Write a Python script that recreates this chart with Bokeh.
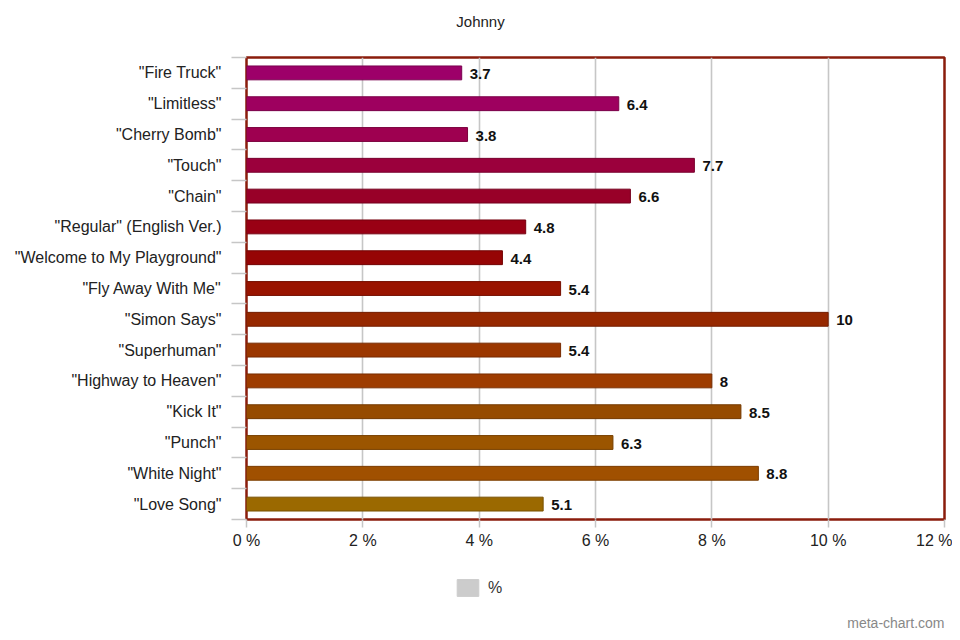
import numpy as np
from bokeh.plotting import figure
from bokeh.layouts import column
from bokeh.models import (FixedTicker, Legend, LegendItem, ColumnDataSource,
                          Range1d, CustomJSTickFormatter, Label)
from bokeh.core.properties import value
from bokeh.embed import file_html
from bokeh.resources import INLINE

songs = ['"Fire Truck"', '"Limitless"', '"Cherry Bomb"', '"Touch"', '"Chain"',
         '"Regular" (English Ver.)', '"Welcome to My Playground"', '"Fly Away With Me"',
         '"Simon Says"', '"Superhuman"', '"Highway to Heaven"', '"Kick It"', '"Punch"',
         '"White Night"', '"Love Song"']
percent = [3.7, 6.4, 3.8, 7.7, 6.6, 4.8, 4.4, 5.4, 10, 5.4, 8, 8.5, 6.3, 8.8, 5.1]
value_labels = ["3.7", "6.4", "3.8", "7.7", "6.6", "4.8", "4.4", "5.4", "10", "5.4",
                "8", "8.5", "6.3", "8.8", "5.1"]
colors = ["#9d0069", "#9e005f", "#9e0050", "#9b003c", "#980028", "#990014", "#960505",
          "#991400", "#962800", "#9b3700", "#9e3c00", "#964b00", "#9b5500", "#a05000",
          "#9b6900"]
outlines = ["#7a0050", "#7a0048", "#7a003c", "#78002e", "#75001e", "#75000f", "#730404",
            "#750f00", "#731e00", "#772a00", "#7a2e00", "#743a00", "#784100", "#7c3d00",
            "#785100"]
x_ticks = [0, 2, 4, 6, 8, 10, 12]
title_text = "Johnny"
legend_text = "%"
legend_color = "#cccccc"
watermark = "meta-chart.com"

n = len(songs)
ypos = [n - 1 - i + 0.5 for i in range(n)]
boundaries = [float(i) for i in range(n + 1)]

W = 952
FONT = "Liberation Sans"


def blank_figure(height):
    f = figure(width=W, height=height, output_backend="svg", toolbar_location=None,
               x_range=Range1d(0, 1), y_range=Range1d(0, 1),
               min_border_left=246, min_border_right=8, min_border_top=0,
               min_border_bottom=0)
    f.axis.visible = False
    f.grid.visible = False
    f.outline_line_color = None
    f.border_fill_color = "white"
    f.background_fill_color = "white"
    return f


# ---- title strip (frame aligned with the chart frame, starting at x=246) ----
head = blank_figure(52)
head.add_layout(Label(x=234, y=31, x_units="screen", y_units="screen", text=title_text,
                      text_font=FONT, text_font_size="15px", text_color="#222222",
                      text_align="center", text_baseline="middle"))

# ---- main chart ----
p = figure(width=W, height=508, output_backend="svg", toolbar_location=None,
           x_range=Range1d(0, 12), y_range=Range1d(0, n),
           min_border_left=246, min_border_right=8, min_border_top=5,
           min_border_bottom=41)
p.background_fill_color = "white"
p.border_fill_color = "white"
p.outline_line_color = "#8a1d0c"
p.outline_line_width = 2.5

src = ColumnDataSource(dict(y=ypos, right=percent, color=colors, line=outlines,
                            lab=value_labels))
p.hbar(y="y", right="right", left=0, height=0.45, fill_color="color",
       line_color="line", line_width=1, source=src)

p.text(x="right", y="y", text="lab", source=src, x_offset=8, y_offset=1,
       text_font=value(FONT), text_font_style="bold", text_font_size="15px",
       text_color="#111111", text_baseline="middle", text_align="left")

p.ygrid.visible = False
p.xgrid.ticker = FixedTicker(ticks=x_ticks)
p.xgrid.grid_line_color = "#c6c6c6"
p.xgrid.grid_line_width = 1.6

xa = p.xaxis[0]
xa.ticker = FixedTicker(ticks=x_ticks)
xa.formatter = CustomJSTickFormatter(code="return tick + ' %';")
xa.axis_line_color = None
xa.major_tick_line_color = "#c6c6c6"
xa.major_tick_line_width = 1.5
xa.major_tick_out = 8
xa.major_tick_in = 0
xa.minor_tick_line_color = None
xa.major_label_text_font = FONT
xa.major_label_text_font_size = "16px"
xa.major_label_text_color = "#222222"
xa.major_label_standoff = 4

ya = p.yaxis[0]
ya.ticker = FixedTicker(ticks=ypos, minor_ticks=boundaries)
ya.major_label_overrides = {yv: s for yv, s in zip(ypos, songs)}
ya.axis_line_color = None
ya.major_tick_line_color = None
ya.minor_tick_line_color = "#c6c6c6"
ya.minor_tick_line_width = 1.5
ya.minor_tick_out = 15
ya.minor_tick_in = 0
ya.major_label_text_font = FONT
ya.major_label_text_font_size = "16px"
ya.major_label_text_color = "#222222"
ya.major_label_standoff = 10

# ---- legend + watermark strip ----
foot = blank_figure(72)
# swatch renderer kept outside the visible range; only its legend entry shows
swatch = foot.rect(x=[-5], y=[-5], width=1, height=1, fill_color=legend_color,
                   line_color=legend_color)
legend = Legend(items=[LegendItem(label=legend_text, renderers=[swatch])],
                location=(208, 34), orientation="horizontal",
                glyph_width=27, glyph_height=21, label_text_font=FONT,
                label_text_font_size="16px", label_text_color="#333333",
                background_fill_alpha=0, border_line_color=None,
                label_standoff=7, padding=0, margin=0)
foot.add_layout(legend, "center")
foot.add_layout(Label(x=698, y=10, x_units="screen", y_units="screen", text=watermark,
                      text_font=FONT, text_font_size="14px", text_color="#888888",
                      text_align="right", text_baseline="middle"))

layout = column(head, p, foot, spacing=0)
open("out.html", "w").write(file_html(layout, INLINE))
